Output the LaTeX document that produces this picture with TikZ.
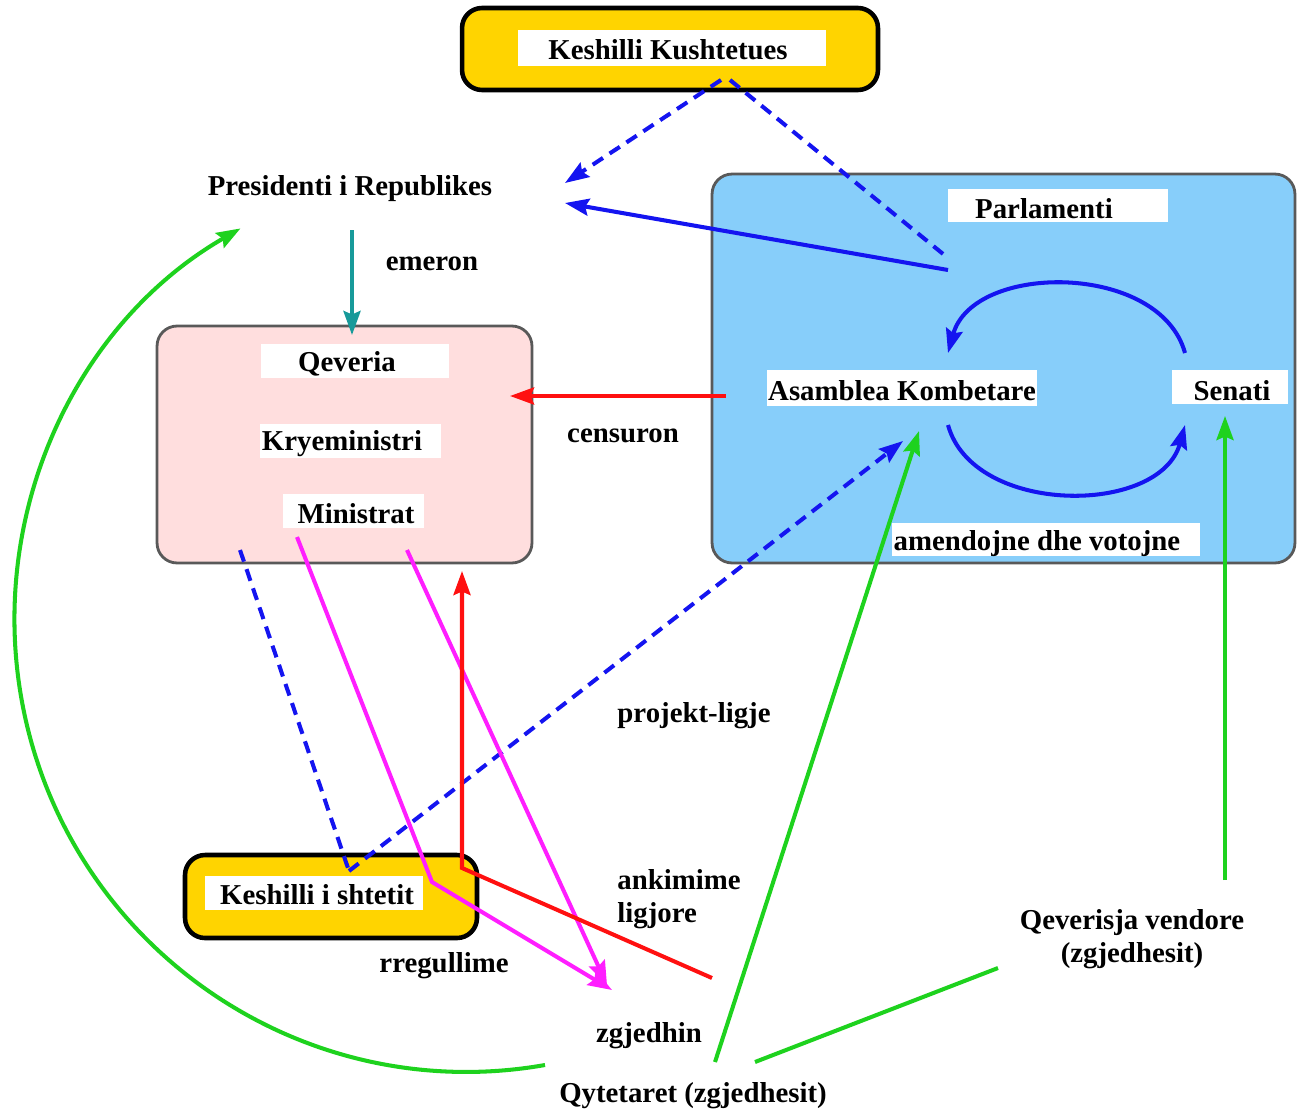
\documentclass[tikz,border=0pt]{standalone}
\usepackage{fontspec}
\setmainfont{Liberation Serif}
\usetikzlibrary{arrows.meta}
\definecolor{kkyellow}{HTML}{FFD400}
\definecolor{parlblue}{HTML}{87CEFA}
\definecolor{qpink}{HTML}{FFDEDE}
\definecolor{ablue}{HTML}{1414F0}
\definecolor{agreen}{HTML}{1ED21E}
\definecolor{ateal}{HTML}{179A9A}
\definecolor{amag}{HTML}{FF1EFF}
\definecolor{ared}{HTML}{FF1010}
\begin{document}
\begin{tikzpicture}[x=0.02cm,y=-0.02cm,
  lbl/.style={font=\fontsize{16.4}{19}\selectfont\bfseries, inner sep=0pt, yshift=-0.06cm},
  ybox/.style={draw=black, line width=2.6pt, fill=kkyellow, rounded corners=0.4cm, inner sep=0pt},
  gbox/.style={draw=black!65, line width=1.6pt, rounded corners=0.4cm, inner sep=0pt},
  tip/.style={-{Stealth[length=0.48cm,width=0.34cm,inset=0.07cm]}},
  conn/.style={line width=2.3pt},
  dashline/.style={dash pattern=on 7pt off 4.5pt},
]
\useasboundingbox (0,0) rectangle (1297,1112);

% boxes
\node[ybox, minimum width=8.32cm, minimum height=1.64cm] (kkbox) at (670,49) {};
\node[gbox, fill=parlblue, minimum width=11.66cm, minimum height=7.78cm] (parlbox) at (1003.5,368.5) {};
\node[gbox, fill=qpink, minimum width=7.5cm, minimum height=4.74cm] (qevbox) at (344.5,444.5) {};
\node[ybox, minimum width=5.84cm, minimum height=1.66cm] (ksbox) at (331,896.5) {};

% white label backgrounds
\fill[white] (518,30) rectangle (826,66);
\fill[white] (948,189) rectangle (1168,222);
\fill[white] (767,370) rectangle (1037,406);
\fill[white] (1172,370) rectangle (1288,404);
\fill[white] (892,523) rectangle (1200,556);
\fill[white] (261,344) rectangle (449,378);
\fill[white] (260,424) rectangle (441,458);
\fill[white] (283,494) rectangle (424,528);
\fill[white] (205,876) rectangle (423,910);

% labels
\node[lbl] (kk) at (668,47) {Keshilli Kushtetues};
\node[lbl] (parl) at (1044,206) {Parlamenti};
\node[lbl] (asm) at (902,388) {Asamblea Kombetare};
\node[lbl] (sen) at (1232,388) {Senati};
\node[lbl] (amend) at (1037,541) {amendojne dhe votojne};
\node[lbl] (qev) at (347,361) {Qeveria};
\node[lbl] (krye) at (342,441) {Kryeministri};
\node[lbl] (min) at (356,511) {Ministrat};
\node[lbl] (ks) at (317,892) {Keshilli i shtetit};
\node[lbl] (pres) at (350,186) {Presidenti i Republikes};
\node[lbl] (emeron) at (432,261) {emeron};
\node[lbl] (censuron) at (623,433) {censuron};
\node[lbl] (projekt) at (694,713) {projekt-ligje};
\node[lbl, align=left, anchor=west] (ankim) at (617,896) {ankimime\\[0pt]ligjore};
\node[lbl] (rreg) at (444,963) {rregullime};
\node[lbl] (zgj) at (649,1033) {zgjedhin};
\node[lbl] (qyt) at (693,1093) {Qytetaret (zgjedhesit)};
\node[lbl, align=center] (qv) at (1132,936) {Qeverisja vendore\\[0pt](zgjedhesit)};

% connector end points
\coordinate (kkL) at (721,80);
\coordinate (kkR) at (730,80);
\coordinate (presR1) at (565,183);
\coordinate (presR2) at (565,203);
\coordinate (parlDash) at (948,258);
\coordinate (parlSolid) at (948,270);
\coordinate (presB) at (352,230);
\coordinate (qevT) at (352,335);
\coordinate (asmL) at (726,396);
\coordinate (qevR) at (510,396);
\coordinate (senTop) at (1185,353);
\coordinate (asmTop) at (948,353);
\coordinate (asmBot) at (948,425);
\coordinate (senBot) at (1185,425);
\coordinate (qevBL) at (240,550);
\coordinate (ksTop) at (349,871);
\coordinate (asmIn) at (903,441);
\coordinate (qytA) at (715,1062);
\coordinate (asmIn2) at (919,431);
\coordinate (qvTop) at (1225,880);
\coordinate (senIn) at (1225,416);
\coordinate (qytB) at (755,1062);
\coordinate (qvL) at (998,968);
\coordinate (qytL) at (545,1065);
\coordinate (minA) at (297,537);
\coordinate (bendA) at (432,882);
\coordinate (zgjA) at (612,990);
\coordinate (minB) at (407,550);
\coordinate (zgjB) at (607,985);
\coordinate (ankR) at (712,978);
\coordinate (bendR) at (462,868);
\coordinate (qevBot) at (462,571);

% connectors
\draw[conn, ablue, dashline, tip] (kkL) -- (presR1);
\draw[conn, ablue, dashline] (kkR) -- (parlDash);
\draw[conn, ablue, tip] (parlSolid) -- (presR2);
\draw[conn, ateal, tip] (presB) -- (qevT);
\draw[conn, ared, tip] (asmL) -- (qevR);
\draw[conn, ablue, tip] (senTop) .. controls (1160,262) and (973,262) .. (asmTop);
\draw[conn, ablue, tip] (asmBot) .. controls (973,516) and (1160,516) .. (senBot);
\draw[conn, ablue, dashline] (qevBL) -- (ksTop);
\draw[conn, ablue, dashline, tip] (ksTop) -- (asmIn);
\draw[conn, amag, tip] (minA) -- (bendA) -- (zgjA);
\draw[conn, amag, tip] (minB) -- (zgjB);
\draw[conn, ared, tip] (ankR) -- (bendR) -- (qevBot);
\draw[conn, agreen, tip] (qytA) -- (asmIn2);
\draw[conn, agreen, tip] (qvTop) -- (senIn);
\draw[conn, agreen] (qytB) -- (qvL);
\draw[conn, agreen, tip] (qytL) arc[start angle=80, end angle=240, radius=452];
\end{tikzpicture}
\end{document}
